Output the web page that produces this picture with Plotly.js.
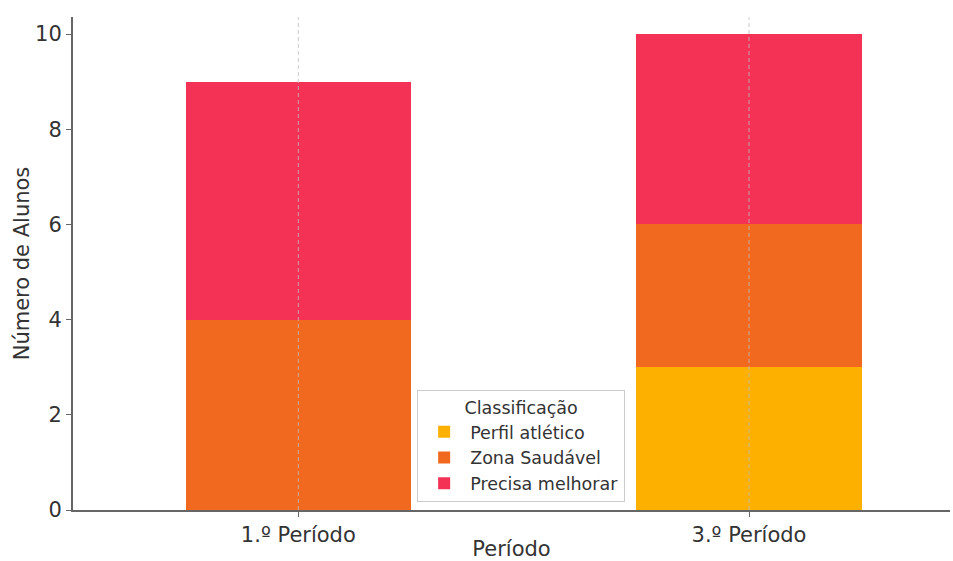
<!DOCTYPE html>
<html><head><meta charset="utf-8">
<script src="https://cdn.plot.ly/plotly-3.0.1.min.js"></script>
<style>html,body{margin:0;padding:0;background:#fff}#c{width:953px;height:561px}</style>
</head><body><div id="c"></div>
<script>
const categories = ["1.º Período", "3.º Período"];
const perfilAtletico = [0, 3];
const zonaSaudavel = [4, 3];
const precisaMelhorar = [5, 4];
const seriesNames = ["Perfil atlético", "Zona Saudável", "Precisa melhorar"];
const colors = ["#FDB000", "#F0691F", "#F43256"];
const yTicks = [0, 2, 4, 6, 8, 10];
const yMax = 10.36;

const values = [perfilAtletico, zonaSaudavel, precisaMelhorar];
const traces = values.map((v, i) => ({
  type: "bar", x: categories, y: v, name: seriesNames[i],
  marker: {color: colors[i], line: {width: 0}}, width: 0.5, hoverinfo: "x+y+name"
}));
// vertical dashed grid lines drawn above the bars, one per category
const gx = [], gy = [];
categories.forEach(c => { gx.push(c, c, null); gy.push(0, yMax, null); });
traces.push({
  type: "scatter", mode: "lines", x: gx, y: gy, showlegend: false, hoverinfo: "skip",
  line: {color: "rgba(190,190,190,0.8)", width: 1, dash: "4px,3px"}, cliponaxis: true
});

const layout = {
  width: 953, height: 561,
  margin: {l: 73, r: 3, t: 17, b: 51},
  barmode: "stack",
  paper_bgcolor: "#fff", plot_bgcolor: "#fff",
  font: {family: "DejaVu Sans", color: "#333", size: 21},
  xaxis: {
    range: [-0.5, 1.446], showgrid: false,
    showline: true, linecolor: "#666", linewidth: 2, ticks: "outside", ticklen: 5, tickcolor: "#666",
    tickfont: {size: 21, color: "#333"},
    title: {text: "Período", font: {size: 21, color: "#333"}, standoff: 10}
  },
  yaxis: {
    range: [0, yMax], tickvals: yTicks, showgrid: false, zeroline: false,
    showline: true, linecolor: "#666", linewidth: 2, ticks: "outside", ticklen: 5, tickcolor: "#666",
    tickfont: {size: 21, color: "#333"},
    title: {text: "Número de Alunos", font: {size: 21, color: "#333"}, standoff: 0}
  },
  legend: {
    x: 0.511, xanchor: "center", y: 0.016, yanchor: "bottom", itemwidth: 42,
    traceorder: "normal", bgcolor: "rgba(255,255,255,0.85)", bordercolor: "#ccc", borderwidth: 1,
    font: {size: 17.5, color: "#333"},
    title: {text: "Classificação", side: "top center", font: {size: 17.5, color: "#333"}}
  },
  showlegend: true
};
Plotly.newPlot("c", traces, layout, {displayModeBar: false});
</script></body></html>
